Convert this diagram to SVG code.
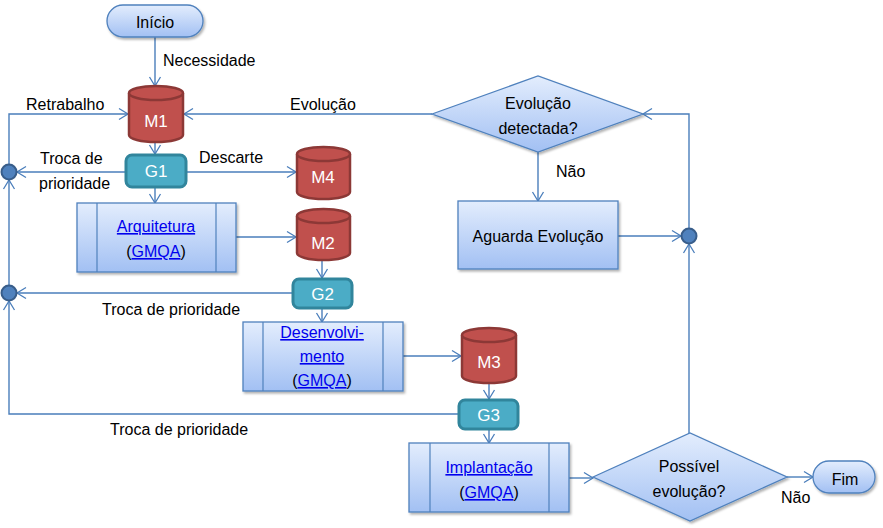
<svg xmlns="http://www.w3.org/2000/svg" width="883" height="528" viewBox="0 0 883 528">
<defs>
<linearGradient id="bg" x1="0" y1="0" x2="0" y2="1">
<stop offset="0" stop-color="#E3EDFD"/>
<stop offset="1" stop-color="#A2C0F3"/>
</linearGradient>
<filter id="sh" x="-10%" y="-10%" width="130%" height="140%">
<feDropShadow dx="1.5" dy="2" stdDeviation="1.2" flood-color="#000" flood-opacity="0.3"/>
</filter>
<marker id="arr" markerUnits="userSpaceOnUse" markerWidth="12" markerHeight="14" refX="10" refY="6" orient="auto" viewBox="0 0 12 12">
<path d="M1,0.5 L10,6 L1,11.5" fill="none" stroke="#4A7EBB" stroke-width="1.3"/>
</marker>
</defs>
<style>
text{font-family:"Liberation Sans",Arial,sans-serif;font-size:16px;fill:#000}
.c{text-anchor:middle}
.w{fill:#fff;font-size:17px}
.lnk{fill:#0000EE;text-decoration:underline}
.proc{fill:url(#bg);stroke:#4F81BD;stroke-width:1.3;filter:url(#sh)}
.inner{stroke:#4F81BD;stroke-width:1.2;fill:none}
.cyl{fill:#C0504D;stroke:#8C3836;stroke-width:2.5}
.cylt{fill:#C0504D;stroke:#8C3836;stroke-width:2.5}
.g{fill:#4BACC6;stroke:#31859C;stroke-width:3}
.dot{fill:#4F81BD;stroke:#385D8A;stroke-width:2}
.e{fill:none;stroke:#4A7EBB;stroke-width:1.4;marker-end:url(#arr)}
</style>

<g id="connectors">
<path class="e" d="M155,37 V86"/>
<path class="e" d="M9,164 V114 H128"/>
<path class="e" d="M432,114 H184"/>
<path class="e" d="M155,142 V154"/>
<path class="e" d="M125,172 H17"/>
<path class="e" d="M187,172 H296"/>
<path class="e" d="M155,188 V203"/>
<path class="e" d="M236,237 H296"/>
<path class="e" d="M322,260 V278"/>
<path class="e" d="M292,293 H17"/>
<path class="e" d="M322,308 V322"/>
<path class="e" d="M403,356 H461"/>
<path class="e" d="M489,383 V399"/>
<path class="e" d="M458,414 H9 V301"/>
<path class="e" d="M9,285 V180"/>
<path class="e" d="M489,429 V443"/>
<path class="e" d="M569,478 H593"/>
<path class="e" d="M787,477 H813"/>
<path class="e" d="M689,433 V244"/>
<path class="e" d="M618,236 H681"/>
<path class="e" d="M689,228 V114 H643"/>
<path class="e" d="M538,152 V201"/>
<text x="163" y="66">Necessidade</text>
<text x="26" y="110">Retrabalho</text>
<text x="290" y="110">Evolução</text>
<text x="40" y="164">Troca de</text>
<text x="39" y="189">prioridade</text>
<text x="199" y="163">Descarte</text>
<text x="102" y="315">Troca de prioridade</text>
<text x="110" y="435">Troca de prioridade</text>
<text x="556" y="177">Não</text>
<text x="781" y="503">Não</text>
</g>

<g id="inicio">
<rect x="107" y="5" width="96" height="32" rx="16" class="proc"/>
<text x="155" y="28" class="c">Início</text>
</g>

<g id="M1">
<path class="cyl" d="M129,93 V135 A27,7 0 0 0 183,135 V93"/>
<ellipse class="cylt" cx="156" cy="93" rx="27" ry="7"/>
<text x="156" y="127" class="c w">M1</text>
</g>

<g id="G1">
<rect class="g" x="126" y="155" width="60" height="32" rx="6"/>
<text x="156" y="177" class="c w">G1</text>
</g>

<g id="M4">
<path class="cyl" d="M297,154 V192 A26.5,7 0 0 0 350,192 V154"/>
<ellipse class="cylt" cx="323.5" cy="154" rx="26.5" ry="7"/>
<text x="323" y="183" class="c w">M4</text>
</g>

<g id="arquitetura">
<rect class="proc" x="77" y="203" width="159" height="69"/>
<line class="inner" x1="97" y1="203" x2="97" y2="272"/>
<line class="inner" x1="216" y1="203" x2="216" y2="272"/>
<text x="156" y="232" class="c"><tspan class="lnk">Arquitetura</tspan></text>
<text x="156" y="257" class="c">(<tspan class="lnk">GMQA</tspan>)</text>
</g>

<g id="M2">
<path class="cyl" d="M297,216 V253 A26.5,7 0 0 0 350,253 V216"/>
<ellipse class="cylt" cx="323.5" cy="216" rx="26.5" ry="7"/>
<text x="323" y="249" class="c w">M2</text>
</g>

<g id="G2">
<rect class="g" x="293" y="279" width="59" height="29" rx="6"/>
<text x="322.5" y="300" class="c w">G2</text>
</g>

<g id="desenvolvimento">
<rect class="proc" x="243" y="322" width="160" height="69"/>
<line class="inner" x1="263" y1="322" x2="263" y2="391"/>
<line class="inner" x1="383" y1="322" x2="383" y2="391"/>
<text x="322" y="338" class="c"><tspan class="lnk">Desenvolvi-</tspan></text>
<text x="322" y="362" class="c"><tspan class="lnk">mento</tspan></text>
<text x="322" y="386" class="c">(<tspan class="lnk">GMQA</tspan>)</text>
</g>

<g id="M3">
<path class="cyl" d="M462,335 V376 A27,7 0 0 0 516,376 V335"/>
<ellipse class="cylt" cx="489" cy="335" rx="27" ry="7"/>
<text x="489" y="368" class="c w">M3</text>
</g>

<g id="G3">
<rect class="g" x="459" y="400" width="59" height="29" rx="6"/>
<text x="488.5" y="421" class="c w">G3</text>
</g>

<g id="implantacao">
<rect class="proc" x="409" y="443" width="160" height="69"/>
<line class="inner" x1="430" y1="443" x2="430" y2="512"/>
<line class="inner" x1="549" y1="443" x2="549" y2="512"/>
<text x="489" y="473" class="c"><tspan class="lnk">Implantação</tspan></text>
<text x="489" y="498" class="c">(<tspan class="lnk">GMQA</tspan>)</text>
</g>

<g id="possivel">
<polygon class="proc" points="593,477 690,433 787,477 690,521"/>
<text x="689" y="472" class="c">Possível</text>
<text x="689" y="497" class="c">evolução?</text>
</g>

<g id="fim">
<rect x="813" y="461" width="62" height="32" rx="16" class="proc"/>
<text x="845" y="485" class="c">Fim</text>
</g>

<g id="evolucao-detectada">
<polygon class="proc" points="432,114 538,76 643,114 538,152"/>
<text x="538" y="109" class="c">Evolução</text>
<text x="538" y="134" class="c">detectada?</text>
</g>

<g id="aguarda">
<rect class="proc" x="458" y="201" width="160" height="68"/>
<text x="538" y="242" class="c">Aguarda Evolução</text>
</g>

<g id="junction-right"><circle class="dot" cx="689" cy="236" r="7.5"/></g>
<g id="junction-left1"><circle class="dot" cx="9" cy="172" r="7.5"/></g>
<g id="junction-left2"><circle class="dot" cx="9" cy="293" r="7.5"/></g>
</svg>
